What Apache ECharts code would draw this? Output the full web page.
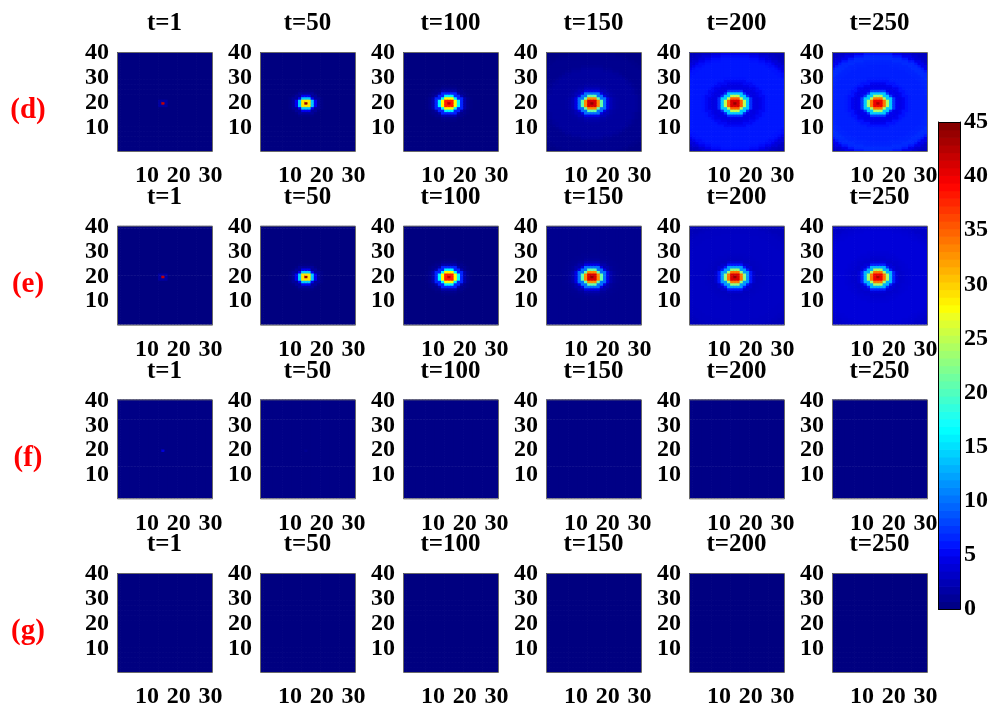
<!DOCTYPE html>
<html><head><meta charset="utf-8">
<script src="https://cdn.jsdelivr.net/npm/echarts@6/dist/echarts.min.js"></script>
<style>html,body{margin:0;padding:0;background:#fff;}#chart{width:994px;height:709px;}</style>
</head><body><div id="chart"></div>
<script>
// ---------------- DATA ----------------
const rowLabels = ['(d)', '(e)', '(f)', '(g)'];
const timeLabels = ['t=1', 't=50', 't=100', 't=150', 't=200', 't=250'];
const xTickLabels = ['10', '20', '30'];
const yTickLabels = ['10', '20', '30', '40'];
const colorbarTicks = [0, 5, 10, 15, 20, 25, 30, 35, 40, 45];
const gridCols = 30;   // x cells
const gridRows = 40;   // y cells
const blobCenter = [15, 20];   // (x, y) cell of the spot centre
const valueMax = 45;

// radial profiles: value at distance r = 0,1,2,... cells
// from the spot centre; the last entry holds out to the panel edges.
const prof_d_t1   = [42, 1.5, 0];
const prof_d_t50  = [44, 29, 14, 5, 1.2, 0.3, 0];
const prof_d_t100 = [42, 38, 28, 16, 6.5, 2, 0.6, 0.2, 0];
const prof_d_t150 = [44, 41, 33, 21, 10, 4.5, 2.5, 1.8, 1.5, 1.4, 1.4, 1.4, 1.4, 1.4, 1.2, 0.9, 0.7, 0.7, 0.7, 0.7, 0.7, 0.5, 0.3];
const prof_d_t200 = [44, 41, 35, 25, 14, 7, 4.6, 4.4, 4.8, 5.3, 5.8, 6, 6, 6, 6, 6, 6, 6, 5.8, 5.5, 5, 4, 3.2, 2.8, 2.6, 2.5];
const prof_d_t250 = [43, 40, 34, 24, 14, 7.5, 5, 4.7, 5.1, 5.7, 6.2, 6.4, 6.4, 6.4, 6.4, 6.4, 6.5, 6.6, 6.9, 6.8, 6, 4.8, 3.8, 3.2, 3, 2.8];

const prof_e_t1   = [42, 1.5, 0];
const prof_e_t50  = [44, 29, 14, 5, 1.2, 0.3, 0];
const prof_e_t100 = [42, 38, 28, 16, 6.5, 2, 0.6, 0.2, 0];
const prof_e_t150 = [44, 41, 33, 21, 10, 4.5, 2, 1.2, 0.9, 0.8, 0.7];
const prof_e_t200 = [44, 41, 34, 23, 12, 6, 3.5, 2.8, 2.9, 3, 3.1, 3.1, 3.1, 3.1, 3.1, 3.1, 3.1, 3.1, 3, 3, 3, 2.8, 2.6];
const prof_e_t250 = [43, 40, 34, 24, 13, 6.5, 4, 3.5, 3.6, 3.8, 3.9, 4, 4, 4, 4, 4, 4, 4, 4, 3.9, 3.8, 3.6, 3.3];

const prof_f_t1   = [4, 0.3];
const prof_f_t50  = [0.8, 0.3];
const prof_f_t100 = [0.3];
const prof_f_t150 = [0.3];
const prof_f_t200 = [0.3];
const prof_f_t250 = [0.3];

const prof_g_t1   = [0];
const prof_g_t50  = [0];
const prof_g_t100 = [0];
const prof_g_t150 = [0];
const prof_g_t200 = [0];
const prof_g_t250 = [0];

const profiles = [
  [prof_d_t1, prof_d_t50, prof_d_t100, prof_d_t150, prof_d_t200, prof_d_t250],
  [prof_e_t1, prof_e_t50, prof_e_t100, prof_e_t150, prof_e_t200, prof_e_t250],
  [prof_f_t1, prof_f_t50, prof_f_t100, prof_f_t150, prof_f_t200, prof_f_t250],
  [prof_g_t1, prof_g_t50, prof_g_t100, prof_g_t150, prof_g_t200, prof_g_t250]
];

// ---------------- LAYOUT / STYLE ----------------
const FONT = '"Liberation Serif", "Times New Roman", serif';
const panelLeft0 = 117, colStep = 143, panelTop0 = 52, rowStep = 173.67;
const panelW = 95, panelH = 99;
const cb = { left: 938, top: 122, width: 22, height: 487 };
const nColors = 64;

function jetColor(i) { // MATLAB jet(64), i = 1..64
  const u = k => k <= 16 ? k / 16 : (k <= 31 ? 1 : (48 - k) / 16);
  const r = i >= 25 ? u(i - 24) : 0;
  const g = (i >= 9 && i <= 55) ? u(i - 8) : 0;
  const b = i <= 39 ? u(i + 7) : 0;
  const h = v => Math.round(v * 255).toString(16).padStart(2, '0');
  return '#' + h(r) + h(g) + h(b);
}
const jet = [];
for (let i = 1; i <= nColors; i++) jet.push(jetColor(i));

const xCats = [], yCats = [];
for (let i = 1; i <= gridCols; i++) xCats.push(String(i));
for (let j = 1; j <= gridRows; j++) yCats.push(String(j));

const labelStyle = { color: '#000', fontFamily: FONT, fontWeight: 'bold', fontSize: 24 };

// cell renderer: one rectangle per data cell, slightly overlapped to hide seams
function renderCell(params, api) {
  const p = api.coord([api.value(0), api.value(1)]);
  const s = api.size([1, 1]);
  return {
    type: 'rect',
    shape: { x: p[0] - s[0] / 2, y: p[1] - s[1] / 2, width: s[0] + 0.7, height: s[1] + 0.7 },
    style: { fill: api.visual('color') }
  };
}

const grids = [], xAxes = [], yAxes = [], series = [], graphics = [];

for (let r = 0; r < rowLabels.length; r++) {
  const top = panelTop0 + r * rowStep;
  graphics.push({
    type: 'text', x: 28, y: top + 59, z: 100,
    style: { text: rowLabels[r], fill: '#ff0000', font: 'bold 29px ' + FONT,
             textAlign: 'center', textVerticalAlign: 'middle', align: 'center', verticalAlign: 'middle' }
  });
  for (let c = 0; c < timeLabels.length; c++) {
    const idx = grids.length;
    const left = panelLeft0 + c * colStep;
    grids.push({ left: left, top: top, width: panelW, height: panelH });
    xAxes.push({
      gridIndex: idx, type: 'category', data: xCats,
      axisLine: { show: false }, axisTick: { show: false }, splitLine: { show: false },
      axisLabel: Object.assign({ interval: (i, v) => xTickLabels.indexOf(v) >= 0, margin: 13 }, labelStyle)
    });
    yAxes.push({
      gridIndex: idx, type: 'category', data: yCats,
      axisLine: { show: false }, axisTick: { show: false }, splitLine: { show: false },
      axisLabel: Object.assign({ interval: (i, v) => yTickLabels.indexOf(v) >= 0, margin: 8 }, labelStyle)
    });
    const prof = profiles[r][c];
    const data = [];
    for (let xi = 0; xi < gridCols; xi++) {
      for (let yi = 0; yi < gridRows; yi++) {
        const d = Math.round(Math.hypot(xi + 1 - blobCenter[0], yi + 1 - blobCenter[1]));
        data.push([xi, yi, prof[Math.min(d, prof.length - 1)]]);
      }
    }
    series.push({
      type: 'custom', xAxisIndex: idx, yAxisIndex: idx, data: data,
      encode: { x: 0, y: 1 }, renderItem: renderCell,
      progressive: 0, animation: false, silent: true, clip: true
    });
    graphics.push({
      type: 'rect', z: 100, silent: true,
      shape: { x: left + 0.5, y: top + 0.5, width: panelW, height: panelH },
      style: { fill: 'none', stroke: '#6a6a6a', lineWidth: 1 }
    });
    graphics.push({
      type: 'text', x: left + panelW / 2, y: top - 28, z: 100,
      style: { text: timeLabels[c], fill: '#000', font: 'bold 25px ' + FONT,
               textAlign: 'center', textVerticalAlign: 'middle', align: 'center', verticalAlign: 'middle' }
    });
  }
}

// ---------------- COLORBAR ----------------
const cbIdx = grids.length;
grids.push({ left: cb.left, top: cb.top, width: cb.width, height: cb.height });
xAxes.push({ gridIndex: cbIdx, type: 'category', data: ['cb'], show: false });
const cbBins = [], cbData = [];
for (let k = 0; k < nColors; k++) {
  cbBins.push(String(k));
  cbData.push([0, k, (k + 0.5) * valueMax / nColors]);
}
const cbCatAxis = yAxes.length;
yAxes.push({ gridIndex: cbIdx, type: 'category', data: cbBins, show: false, position: 'left' });
yAxes.push({
  gridIndex: cbIdx, type: 'value', min: 0, max: valueMax, interval: 5, position: 'left',
  axisLine: { show: true, lineStyle: { color: '#000', width: 1 } },
  axisTick: { show: true, inside: true, length: 4, lineStyle: { color: '#000' } },
  axisLabel: { show: false }, splitLine: { show: false }
});
yAxes.push({
  gridIndex: cbIdx, type: 'value', min: 0, max: valueMax, interval: 5, position: 'right',
  axisLine: { show: true, lineStyle: { color: '#000', width: 1 } },
  axisTick: { show: true, inside: true, length: 4, lineStyle: { color: '#000' } },
  axisLabel: Object.assign({ margin: 4 }, labelStyle), splitLine: { show: false }
});
series.push({
  type: 'custom', xAxisIndex: xAxes.length - 1, yAxisIndex: cbCatAxis, data: cbData,
  encode: { x: 0, y: 1 }, renderItem: renderCell,
  progressive: 0, animation: false, silent: true, clip: true, z: 1
});
graphics.push({
  type: 'rect', z: 100, silent: true,
  shape: { x: cb.left + 0.5, y: cb.top + 0.5, width: cb.width, height: cb.height },
  style: { fill: 'none', stroke: '#000', lineWidth: 1 }
});

const chart = echarts.init(document.getElementById('chart'), null, { renderer: 'canvas' });
chart.setOption({
  backgroundColor: '#fff',
  animation: false,
  grid: grids, xAxis: xAxes, yAxis: yAxes,
  visualMap: {
    type: 'continuous', show: false, min: 0, max: valueMax, dimension: 2,
    seriesIndex: series.map((s, i) => i), inRange: { color: jet }
  },
  series: series,
  graphic: graphics
});
</script></body></html>
